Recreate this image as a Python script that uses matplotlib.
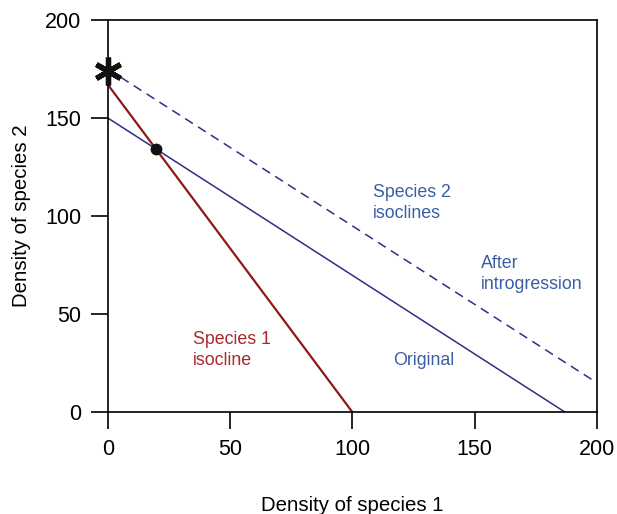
import matplotlib.pyplot as plt

plt.rcParams['font.family'] = ['Liberation Sans', 'DejaVu Sans']

# Isocline end points (x, y)
sp1_x = [0, 100]
sp1_y = [167, 0]
sp2_orig_x = [0, 187]
sp2_orig_y = [150, 0]
sp2_after_x = [0, 200]
sp2_after_y = [175, 15]

# Equilibrium point and the new intercept
eq_x, eq_y = 19.6, 134.3
star_x, star_y = 0, 174

ticks = [0, 50, 100, 150, 200]

red = '#8b1a1a'
navy = '#2e2e8a'
red_txt = '#a8282b'
blue_txt = '#3a5ea5'

fig = plt.figure(figsize=(6.17, 5.14), dpi=100)
ax = fig.add_axes([0.175, 0.198, 0.7925, 0.763])

ax.plot(sp2_orig_x, sp2_orig_y, color=navy, lw=1.1)
ax.plot(sp2_after_x, sp2_after_y, color=navy, lw=1.1, ls=(0, (6, 4)))
ax.plot(sp1_x, sp1_y, color=red, lw=1.6)
ax.plot(eq_x, eq_y, 'o', color='#111111', ms=7.5, zorder=5)
ax.plot(star_x, star_y, marker=(6, 2, 0), color='#111111', ms=20, mew=3.8,
        clip_on=False, zorder=6)

fs = 12.8
ax.text(108.4, 106.8, 'Species 2\nisoclines', color=blue_txt, fontsize=fs,
        linespacing=1.35, va='center')
ax.text(152.6, 70.6, 'After\nintrogression', color=blue_txt, fontsize=fs,
        linespacing=1.35, va='center')
ax.text(116.6, 26.3, 'Original', color=blue_txt, fontsize=fs, va='center')
ax.text(34.8, 31.8, 'Species 1\nisocline', color=red_txt, fontsize=fs,
        linespacing=1.35, va='center')

ax.set_xlim(0, 200)
ax.set_ylim(0, 200)
ax.set_xticks(ticks)
ax.set_yticks(ticks)
ax.tick_params(direction='out', length=12, width=1.2, labelsize=15.5, pad=7)
for s in ax.spines.values():
    s.set_linewidth(1.2)

ax.set_xlabel('Density of species 1', fontsize=14.7, labelpad=26)
ax.set_ylabel('Density of species 2', fontsize=14.7, labelpad=10)

fig.savefig('out.png', dpi=100)
